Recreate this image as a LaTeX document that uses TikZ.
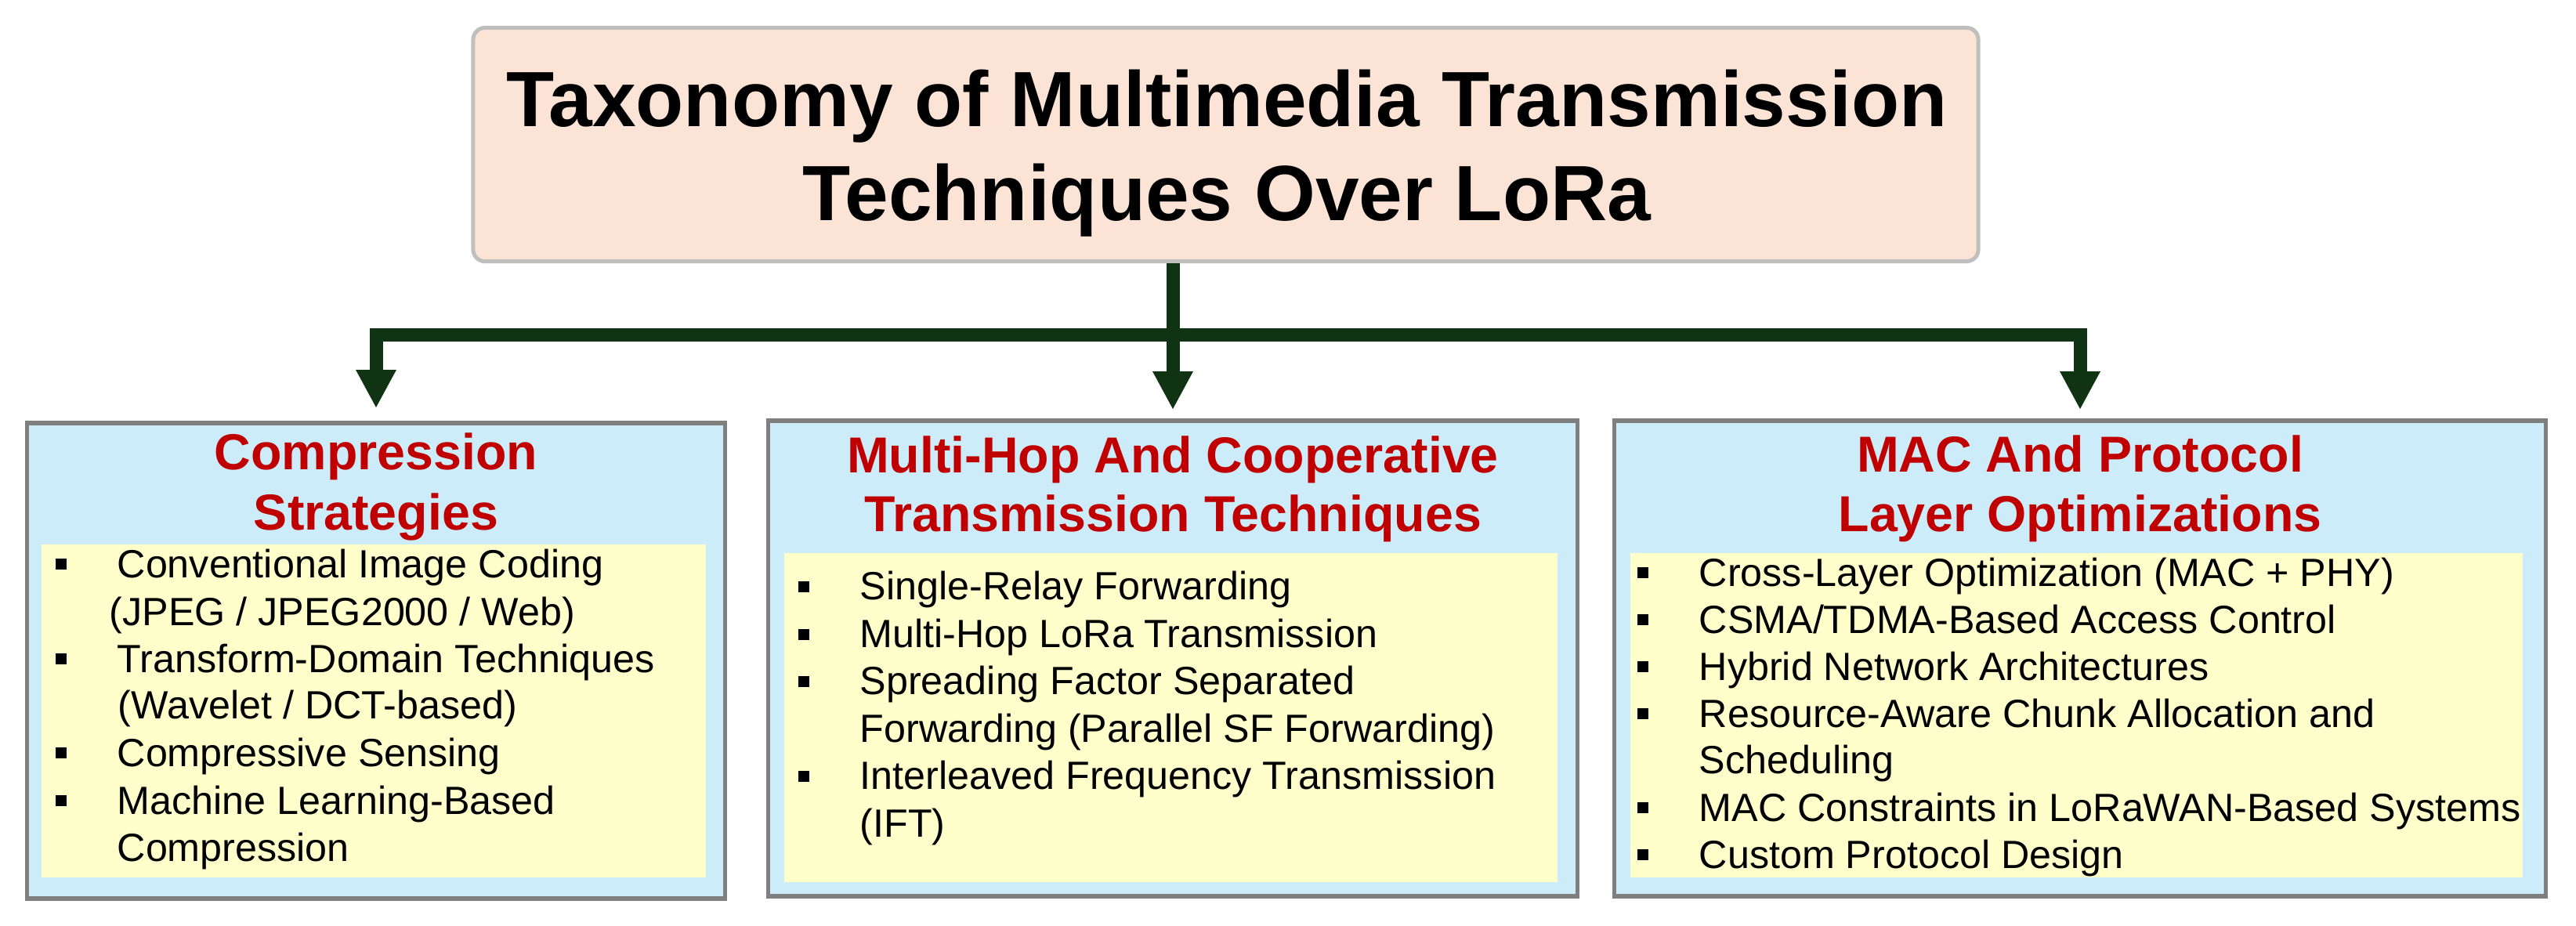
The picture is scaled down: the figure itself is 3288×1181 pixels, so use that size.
\documentclass[tikz,border=0pt]{standalone}
\usepackage{fontspec}
\setmainfont{Liberation Sans}
\usetikzlibrary{arrows.meta}
\definecolor{peach}{RGB}{251,227,214}
\definecolor{peachline}{RGB}{191,191,191}
\definecolor{skyfill}{RGB}{205,236,250}
\definecolor{boxline}{RGB}{127,127,127}
\definecolor{panelfill}{RGB}{255,255,204}
\definecolor{headred}{RGB}{192,0,0}
\definecolor{dkgreen}{RGB}{16,51,20}
\begin{document}
\begin{tikzpicture}[x=0.01cm,y=-0.01cm,
  topbox/.style={draw=peachline, fill=peach, line width=0.05cm, rounded corners=0.15cm, inner sep=0},
  catbox/.style={draw=boxline, fill=skyfill, line width=0.055cm, inner sep=0, minimum height=6.07cm},
  panel/.style={fill=panelfill, inner sep=0},
  titletext/.style={font=\fontsize{28.45pt}{34pt}\selectfont\bfseries, inner sep=0, anchor=base},
  headtext/.style={font=\fontsize{18.35pt}{22pt}\selectfont\bfseries, text=headred, inner sep=0, anchor=base},
  itemtext/.style={font=\fontsize{14.3pt}{17pt}\selectfont, inner sep=0, anchor=base west},
  bul/.style={fill=black, inner sep=0, minimum size=0.14cm},
  conn/.style={draw=dkgreen, line width=0.17cm},
  tip/.tip={Triangle[length=0.49cm,width=0.48cm]}
]
\useasboundingbox (0,0) rectangle (3288,1181);

% title box
\node[topbox, minimum width=19.2cm, minimum height=2.98cm] (top) at (1564.5,184.5) {};
\node[titletext] (t1) at (1566,161) {Taxonomy of Multimedia Transmission};
\node[titletext] (t2) at (1566,281) {Techniques Over LoRa};

% category boxes
\node[catbox, minimum width=8.90cm] (lft) at (480,843.5) {};
\node[catbox, minimum width=10.32cm] (mid) at (1497,840.5) {};
\node[catbox, minimum width=11.88cm] (rgt) at (2655,840.5) {};

% inner panels
\node[panel, minimum width=8.48cm, minimum height=4.25cm] (lp) at (477,907.5) {};
\node[panel, minimum width=9.87cm, minimum height=4.20cm] (mp) at (1494.5,916) {};
\node[panel, minimum width=11.39cm, minimum height=4.14cm] (rp) at (2650.5,913) {};

% connectors
\coordinate (barpt) at (1497,427);
\draw[conn, tip-tip, shorten <=0.16cm, shorten >=0.11cm]
  (lft.north) -- (lft.north |- barpt) -- (rgt.north |- barpt) -- (rgt.north);
\draw[conn, -tip, shorten >=0.11cm] (mid.north |- top.south) -- (mid.north);

% headings
\node[headtext] (lh1) at (480,599) {Compression};
\node[headtext] (lh2) at (480,676) {Strategies};
\node[headtext] (mh1) at (1497,603) {Multi-Hop And Cooperative};
\node[headtext] (mh2) at (1497,678) {Transmission Techniques};
\node[headtext] (rh1) at (2655,602) {MAC And Protocol};
\node[headtext] (rh2) at (2655,678) {Layer Optimizations};

% left items
\node[bul] (lb1) at (78,720) {};
\node[itemtext] (li1) at (149,737) {Conventional Image Coding};
\node[itemtext] (li1b) at (139,798) {(JPEG / JPEG2000 / Web)};
\node[bul] (lb2) at (78,841) {};
\node[itemtext] (li2) at (149,858) {Transform-Domain Techniques};
\node[itemtext] (li2b) at (150,917) {(Wavelet / DCT-based)};
\node[bul] (lb3) at (78,961) {};
\node[itemtext] (li3) at (149,978) {Compressive Sensing};
\node[bul] (lb4) at (78,1022) {};
\node[itemtext] (li4) at (149,1039) {Machine Learning-Based};
\node[itemtext] (li4b) at (149,1099) {Compression};

% middle items
\node[bul] (mb1) at (1026,749) {};
\node[itemtext] (mi1) at (1097,765) {Single-Relay Forwarding};
\node[bul] (mb2) at (1026,810) {};
\node[itemtext] (mi2) at (1097,826) {Multi-Hop LoRa Transmission};
\node[bul] (mb3) at (1026,870) {};
\node[itemtext] (mi3) at (1097,886) {Spreading Factor Separated};
\node[itemtext] (mi3b) at (1097,947) {Forwarding (Parallel SF Forwarding)};
\node[bul] (mb4) at (1026,991) {};
\node[itemtext] (mi4) at (1097,1007) {Interleaved Frequency Transmission};
\node[itemtext] (mi4b) at (1097,1068) {(IFT)};

% right items
\node[bul] (rb1) at (2097,731) {};
\node[itemtext] (ri1) at (2168,748) {Cross-Layer Optimization (MAC + PHY)};
\node[bul] (rb2) at (2097,791) {};
\node[itemtext] (ri2) at (2168,808) {CSMA/TDMA-Based Access Control};
\node[bul] (rb3) at (2097,851) {};
\node[itemtext] (ri3) at (2168,868) {Hybrid Network Architectures};
\node[bul] (rb4) at (2097,911) {};
\node[itemtext] (ri4) at (2168,928) {Resource-Aware Chunk Allocation and};
\node[itemtext] (ri4b) at (2168,987) {Scheduling};
\node[bul] (rb5) at (2097,1031) {};
\node[itemtext] (ri5) at (2168,1048) {MAC Constraints in LoRaWAN-Based Systems};
\node[bul] (rb6) at (2097,1091) {};
\node[itemtext] (ri6) at (2168,1108) {Custom Protocol Design};
\end{tikzpicture}
\end{document}
